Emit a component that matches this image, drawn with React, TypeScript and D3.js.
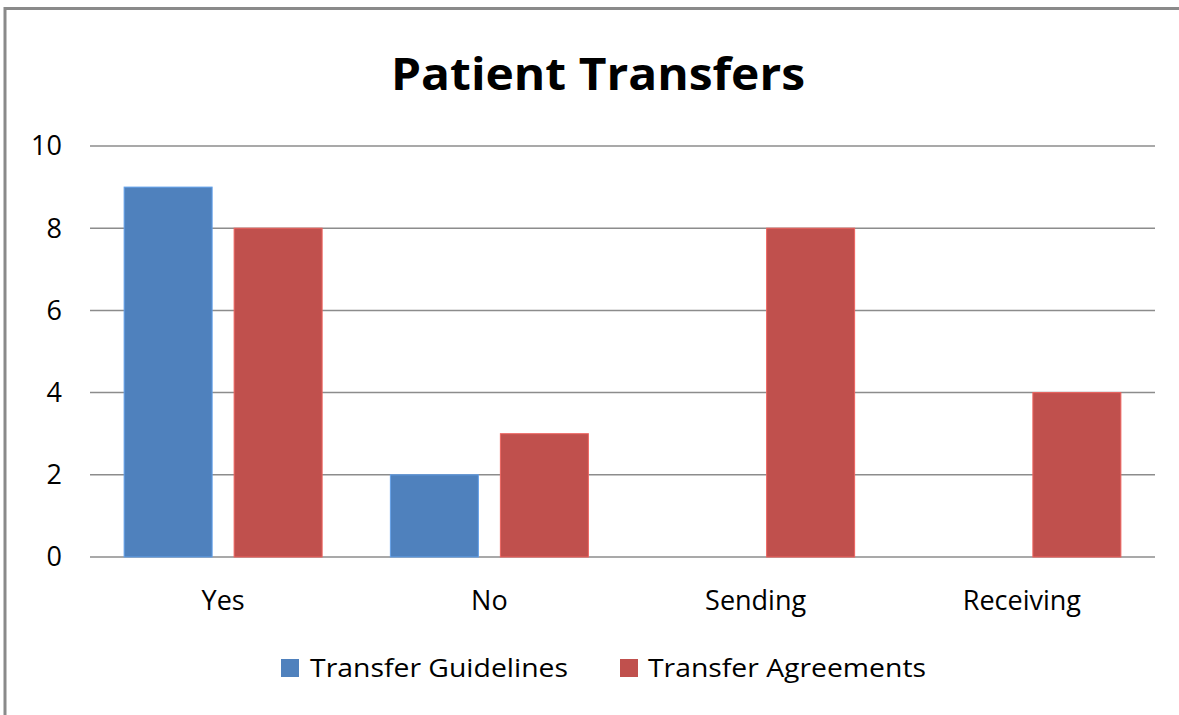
import React from "react";
import * as d3 from "d3";

const categories = ["Yes", "No", "Sending", "Receiving"];
const seriesNames = ["Transfer Guidelines", "Transfer Agreements"];
const guidelines: (number | null)[] = [9, 2, null, null];
const agreements: (number | null)[] = [8, 3, 8, 4];
const yTicks = [0, 2, 4, 6, 8, 10];
const colors = ["#4F81BD", "#C0504D"];

const W = 1179;
const H = 715;
const plot = { left: 90, right: 1155, top: 146, bottom: 557 };
const FONT = "'Open Sans', 'Noto Sans', sans-serif";

export default function App() {
  const x = d3.scaleBand<string>().domain(categories).range([plot.left, plot.right]);
  const y = d3.scaleLinear().domain([0, 10]).range([plot.bottom, plot.top]);
  const series = [guidelines, agreements];
  const barW = 88;
  const gap = 22;
  const groupW = barW * 2 + gap;

  return (
    <svg width={W} height={H} style={{ position: "fixed", left: 0, top: 0, background: "#fff" }}>
      <rect x={0} y={0} width={W} height={H} fill="#fff" />
      {/* border */}
      <line x1={5} x2={5} y1={7} y2={H} stroke="#8a8a8a" strokeWidth={3} />
      <line x1={4} x2={W} y1={8.5} y2={8.5} stroke="#8a8a8a" strokeWidth={3} />
      {/* title */}
      <text x={598} y={90} textAnchor="middle" fontFamily={FONT} fontWeight="bold" fontSize={44} fill="#000"
        textLength={414} lengthAdjust="spacingAndGlyphs">Patient Transfers</text>
      {/* grid */}
      {yTicks.map((t) => (
        <g key={t}>
          <line x1={plot.left} x2={plot.right} y1={y(t)} y2={y(t)} stroke="#8c8c8c" strokeWidth={1.5} />
          <text x={62} y={y(t)} dy="0.35em" textAnchor="end" fontFamily={FONT} fontSize={27} fill="#000">{t}</text>
        </g>
      ))}
      {/* bars */}
      {categories.map((c, i) => {
        const cx = (x(c) as number) + x.bandwidth() / 2;
        const start = cx - groupW / 2;
        return (
          <g key={c}>
            {series.map((s, si) => {
              const v = s[i];
              if (v == null) return null;
              return (
                <rect key={si} x={start + si * (barW + gap)} y={y(v)} width={barW} height={y(0) - y(v)}
                  fill={colors[si]} stroke={d3.color(colors[si])!.brighter(0.6).toString()} strokeWidth={1} />
              );
            })}
            <text x={cx} y={601} dy="0.35em" textAnchor="middle" fontFamily={FONT} fontSize={27} fill="#000">{c}</text>
          </g>
        );
      })}
      {/* legend */}
      <rect x={281} y={659} width={18} height={18} fill={colors[0]} />
      <text x={310} y={668} dy="0.35em" fontFamily={FONT} fontSize={26} fill="#000" textLength={258} lengthAdjust="spacingAndGlyphs">{seriesNames[0]}</text>
      <rect x={620} y={659} width={18} height={18} fill={colors[1]} />
      <text x={648} y={668} dy="0.35em" fontFamily={FONT} fontSize={26} fill="#000" textLength={278} lengthAdjust="spacingAndGlyphs">{seriesNames[1]}</text>
    </svg>
  );
}
